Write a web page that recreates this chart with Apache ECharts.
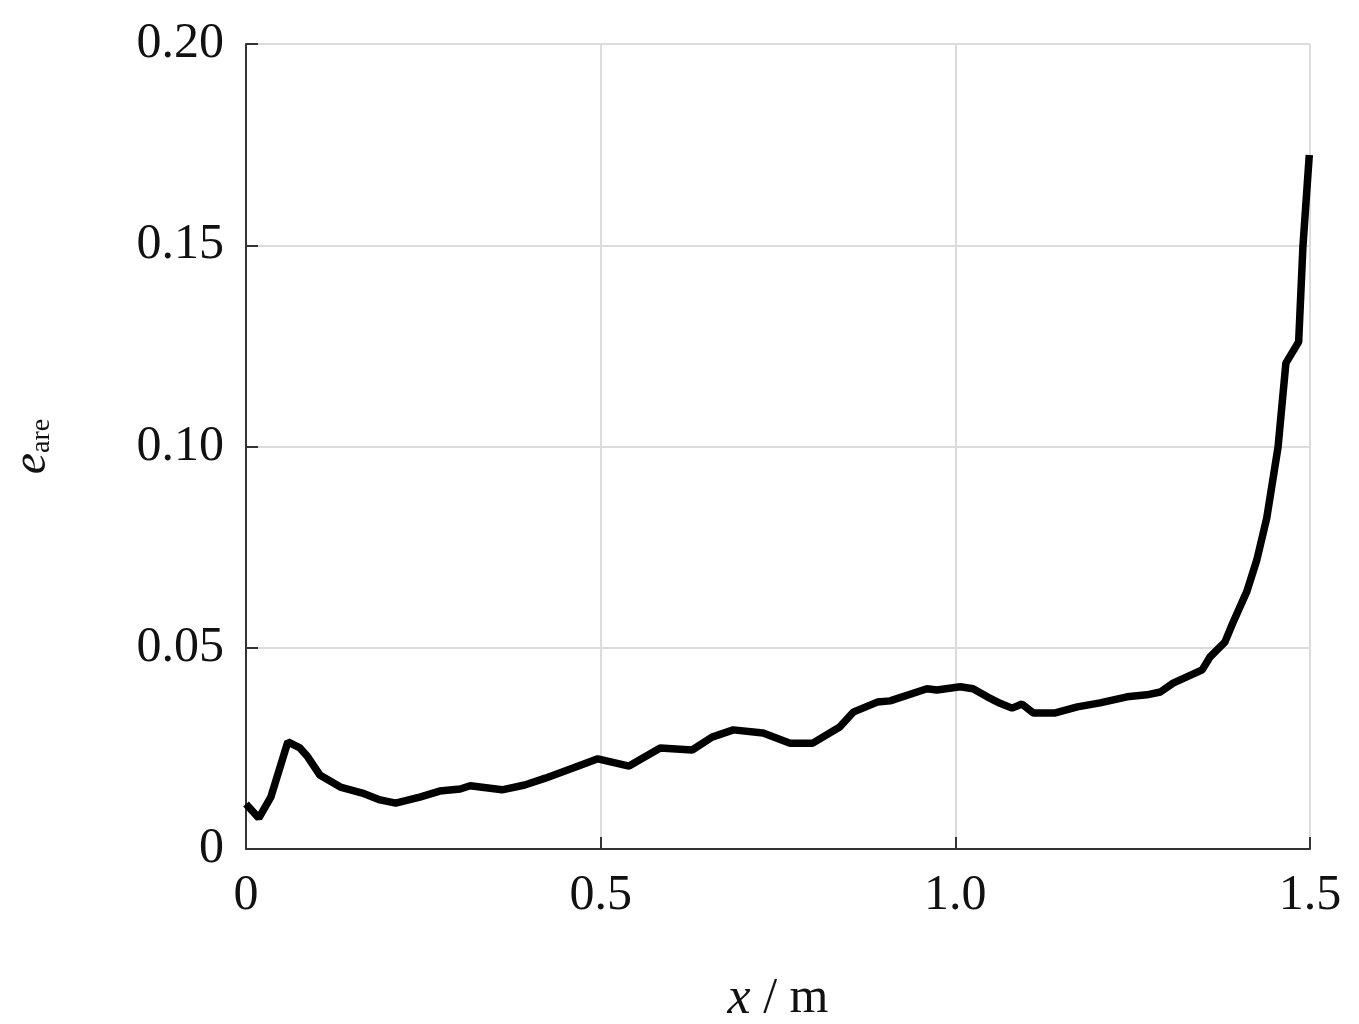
<!DOCTYPE html>
<html>
<head>
<meta charset="utf-8">
<script src="https://cdn.jsdelivr.net/npm/echarts@6/dist/echarts.min.js"></script>
<style>
  html, body { margin: 0; padding: 0; background: #fff; }
  #chart { width: 1359px; height: 1024px; }
</style>
</head>
<body>
<div id="chart"></div>
<script>
// 位置 x/m
var xPos = [0, 0.018, 0.035, 0.059, 0.076, 0.087, 0.104, 0.133, 0.164, 0.189,
  0.211, 0.245, 0.273, 0.302, 0.316, 0.361, 0.393, 0.422, 0.461, 0.496,
  0.540, 0.584, 0.629, 0.657, 0.687, 0.729, 0.767, 0.799, 0.837, 0.856,
  0.890, 0.908, 0.960, 0.974, 1.007, 1.025, 1.045, 1.063, 1.080, 1.094,
  1.110, 1.141, 1.172, 1.204, 1.242, 1.270, 1.289, 1.307, 1.348, 1.359,
  1.380, 1.391, 1.411, 1.425, 1.439, 1.455, 1.466, 1.484, 1.490, 1.499]
// 误差 e_are
var eAre = [0.0112, 0.0077, 0.0129, 0.0266, 0.0251, 0.0229, 0.0184, 0.0154, 0.0139, 0.0122,
  0.0114, 0.0129, 0.0144, 0.0149, 0.0157, 0.0147, 0.0159, 0.0176, 0.0201, 0.0224,
  0.0206, 0.0251, 0.0246, 0.0278, 0.0296, 0.0288, 0.0263, 0.0263, 0.0303, 0.0340,
  0.0365, 0.0368, 0.0398, 0.0395, 0.0403, 0.0398, 0.0378, 0.0362, 0.0350, 0.0360,
  0.0338, 0.0338, 0.0353, 0.0363, 0.0378, 0.0383, 0.0390, 0.0412, 0.0445, 0.0477,
  0.0514, 0.0561, 0.0640, 0.0718, 0.0822, 0.0999, 0.1207, 0.1260, 0.1496, 0.1724]
var xTicks = ['0', '0.5', '1.0', '1.5']
var yTicks = ['0', '0.05', '0.10', '0.15', '0.20']

var font = 'Liberation Serif'
var points = xPos.map(function (x, i) { return [x, eAre[i]] })

var chart = echarts.init(document.getElementById('chart'))
chart.setOption({
  animation: false,
  grid: { left: 246, right: 49, top: 44, bottom: 175, containLabel: false, outerBoundsMode: 'none' },
  xAxis: {
    type: 'value',
    min: 0, max: 1.5, interval: 0.5,
    name: '{i|x}{n| / m}',
    nameLocation: 'middle',
    nameGap: 124,
    nameTextStyle: {
      rich: {
        i: { fontFamily: font, fontStyle: 'italic', fontSize: 52, color: '#111' },
        n: { fontFamily: font, fontSize: 50, color: '#111' }
      }
    },
    axisLine: { show: true, lineStyle: { color: '#333', width: 2 } },
    axisTick: { show: true, inside: true, length: 12, lineStyle: { color: '#333', width: 2 } },
    axisLabel: {
      fontFamily: font, fontSize: 50, color: '#111', margin: 22,
      formatter: function (v) { return xTicks[Math.round(v / 0.5)] }
    },
    splitLine: { show: true, lineStyle: { color: '#dcdcdc', width: 2 } }
  },
  yAxis: {
    type: 'value',
    min: 0, max: 0.2, interval: 0.05,
    name: '{i|e}{s|are}',
    nameLocation: 'middle',
    nameGap: 190,
    nameRotate: 90,
    nameTextStyle: {
      rich: {
        i: { fontFamily: font, fontStyle: 'italic', fontSize: 48, lineHeight: 48, verticalAlign: 'top', color: '#111' },
        s: { fontFamily: font, fontSize: 28, lineHeight: 28, color: '#111', verticalAlign: 'bottom', padding: [34, 0, 0, 0] }
      }
    },
    axisLine: { show: true, lineStyle: { color: '#333', width: 2 } },
    axisTick: { show: true, inside: true, length: 12, lineStyle: { color: '#333', width: 2 } },
    axisLabel: {
      fontFamily: font, fontSize: 50, color: '#111', margin: 22,
      formatter: function (v) { return yTicks[Math.round(v / 0.05)] }
    },
    splitLine: { show: true, lineStyle: { color: '#dcdcdc', width: 2 } }
  },
  series: [
    {
      type: 'line',
      data: points,
      showSymbol: false,
      smooth: false,
      lineStyle: { color: '#000', width: 7.5 },
      clip: false
    }
  ]
})
</script>
</body>
</html>
